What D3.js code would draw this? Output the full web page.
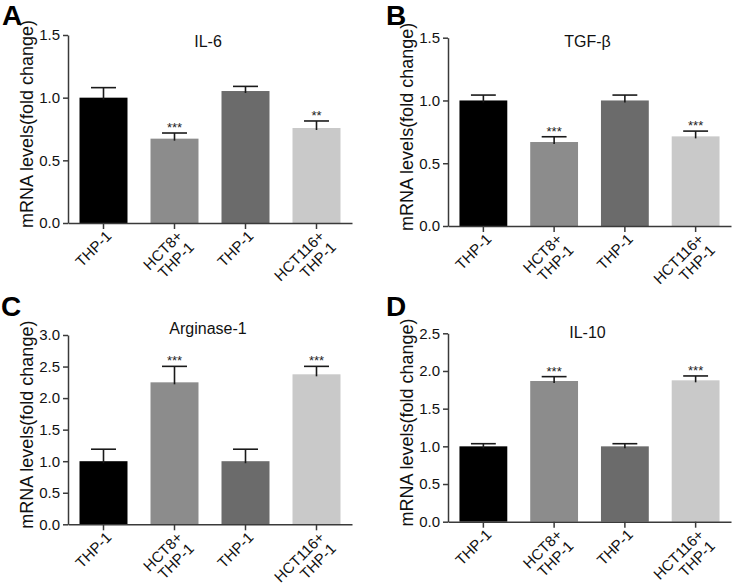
<!DOCTYPE html>
<html><head><meta charset="utf-8">
<script src="https://cdn.jsdelivr.net/npm/d3@7"></script>
<style>
body{margin:0;background:#fff}
svg{display:block}
text{font-family:Arial,"Liberation Sans",Helvetica,sans-serif}
</style>
</head><body>
<svg id="chart" width="733" height="586"></svg>
<script>
// ---------- data ----------
const categories = [["THP-1"], ["HCT8+", "THP-1"], ["THP-1"], ["HCT116+", "THP-1"]];
const barColors = ["#000000", "#8c8c8c", "#6b6b6b", "#c9c9c9"];

const il6Values = [1.00, 0.673, 1.053, 0.758];
const il6Errors = [0.08, 0.045, 0.037, 0.056];
const il6Stars = ["", "***", "", "**"];
const il6Ticks = [0.0, 0.5, 1.0, 1.5];

const tgfValues = [1.00, 0.669, 1.00, 0.714];
const tgfErrors = [0.043, 0.042, 0.043, 0.042];
const tgfStars = ["", "***", "", "***"];
const tgfTicks = [0.0, 0.5, 1.0, 1.5];

const argValues = [1.00, 2.25, 1.00, 2.377];
const argErrors = [0.19, 0.253, 0.19, 0.126];
const argStars = ["", "***", "", "***"];
const argTicks = [0.0, 0.5, 1.0, 1.5, 2.0, 2.5, 3.0];

const il10Values = [1.00, 1.867, 1.00, 1.876];
const il10Errors = [0.035, 0.058, 0.035, 0.058];
const il10Stars = ["", "***", "", "***"];
const il10Ticks = [0.0, 0.5, 1.0, 1.5, 2.0, 2.5];

const panelLetters = ["A", "B", "C", "D"];
const panelTitles = ["IL-6", "TGF-β", "Arginase-1", "IL-10"];
const yLabel = "mRNA levels(fold change)";

// ---------- layout ----------
const panels = [
  {values: il6Values, errors: il6Errors, stars: il6Stars, ticks: il6Ticks,
   x0: 68, x1: 352, yTop: 35, yBot: 223, letterX: 2, letterY: 25, titleY: 47},
  {values: tgfValues, errors: tgfErrors, stars: tgfStars, ticks: tgfTicks,
   x0: 448, x1: 731, yTop: 37.7, yBot: 226, letterX: 386, letterY: 25, titleY: 47},
  {values: argValues, errors: argErrors, stars: argStars, ticks: argTicks,
   x0: 68, x1: 352, yTop: 335, yBot: 524.3, letterX: 1, letterY: 316, titleY: 334},
  {values: il10Values, errors: il10Errors, stars: il10Stars, ticks: il10Ticks,
   x0: 448, x1: 731, yTop: 333.3, yBot: 521.7, letterX: 386, letterY: 316, titleY: 338}
];

const svg = d3.select("#chart");
const axisColor = "#3a3a3a";
const FONT = "Arial, 'Liberation Sans', sans-serif";

panels.forEach((p, i) => {
  const g = svg.append("g");
  const yMax = d3.max(p.ticks);
  const y = d3.scaleLinear().domain([0, yMax]).range([p.yBot, p.yTop]);
  const x = d3.scaleBand().domain(d3.range(categories.length))
    .range([p.x0, p.x1]).paddingInner(0.324).paddingOuter(0.162);

  // bars
  g.selectAll("rect.bar").data(p.values).enter().append("rect")
    .attr("x", (d, j) => x(j))
    .attr("width", x.bandwidth())
    .attr("y", d => y(d))
    .attr("height", d => y(0) - y(d))
    .attr("fill", (d, j) => barColors[j]);

  // error bars (upper)
  const capW = x.bandwidth() * 0.52;
  p.values.forEach((v, j) => {
    const cx = x(j) + x.bandwidth() / 2;
    const top = y(v + p.errors[j]);
    g.append("line").attr("x1", cx).attr("x2", cx)
      .attr("y1", y(v) + 2).attr("y2", top)
      .attr("stroke", "#1a1a1a").attr("stroke-width", 1.6);
    g.append("line").attr("x1", cx - capW / 2).attr("x2", cx + capW / 2)
      .attr("y1", top).attr("y2", top)
      .attr("stroke", "#1a1a1a").attr("stroke-width", 1.6);
    if (p.stars[j]) {
      g.append("text").attr("x", cx).attr("y", top - 1)
        .attr("text-anchor", "middle").attr("font-size", 13)
        .attr("fill", "#222").text(p.stars[j]);
    }
  });

  // y axis
  const yAxis = g.append("g").attr("transform", `translate(${p.x0},0)`)
    .call(d3.axisLeft(y).tickValues(p.ticks).tickFormat(d3.format(".1f"))
      .tickSize(5).tickSizeOuter(0).tickPadding(3));
  yAxis.select(".domain").attr("stroke", axisColor).attr("stroke-width", 1.5);
  yAxis.selectAll(".tick line").attr("stroke", axisColor).attr("stroke-width", 1.5);
  yAxis.selectAll(".tick text").attr("font-size", 15).attr("fill", "#111")
    .attr("font-family", FONT);

  // x axis
  const xAxis = g.append("g").attr("transform", `translate(0,${p.yBot})`)
    .call(d3.axisBottom(x).tickSize(6).tickSizeOuter(0).tickFormat(""));
  xAxis.select(".domain").attr("stroke", axisColor).attr("stroke-width", 1.5);
  xAxis.selectAll(".tick line").attr("stroke", axisColor).attr("stroke-width", 1.5);

  // x labels rotated -45deg, lines right-aligned
  categories.forEach((lines, j) => {
    const cx = x(j) + x.bandwidth() / 2;
    const ax = cx + 9, ay = p.yBot + 14;
    lines.forEach((t, k) => {
      g.append("text")
        .attr("font-size", 15).attr("fill", "#111")
        .attr("text-anchor", "end")
        .attr("transform", `translate(${ax},${ay}) rotate(-45) translate(0,${k * 16})`)
        .text(t);
    });
  });

  // y label
  const cy = (p.yTop + p.yBot) / 2 - 5;
  g.append("text")
    .attr("transform", `translate(${p.x0 - 35},${cy}) rotate(-90)`)
    .attr("text-anchor", "middle").attr("font-size", 18).attr("fill", "#111")
    .text(yLabel);

  // title
  g.append("text").attr("x", (p.x0 + p.x1) / 2 - 2).attr("y", p.titleY)
    .attr("text-anchor", "middle").attr("font-size", 16).attr("fill", "#111")
    .text(panelTitles[i]);

  // panel letter
  g.append("text").attr("x", p.letterX).attr("y", p.letterY)
    .attr("font-size", 28).attr("font-weight", "bold").attr("fill", "#000")
    .text(panelLetters[i]);
});
</script>
</body></html>
